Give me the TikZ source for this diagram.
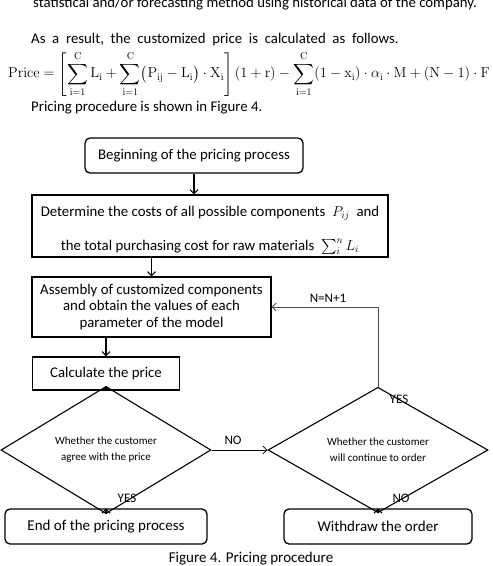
\documentclass[tikz,border=0pt]{standalone}
\usepackage{amsmath,amssymb}
\usepackage[no-math]{fontspec}
\setmainfont{Carlito}
\usetikzlibrary{shapes.geometric, arrows.meta, positioning}

\begin{document}
\begin{tikzpicture}[
  x=1pt, y=-1pt,
  bodytext/.style = {anchor=base west, inner sep=0pt, font=\fontsize{14.8}{17}\selectfont},
  procbox/.style  = {rectangle, draw, line width=1.3pt, align=center, inner sep=2pt,
                     font=\fontsize{14.8}{16.5}\selectfont},
  termbox/.style  = {procbox, rounded corners=5pt},
  decnode/.style  = {diamond, draw, line width=1.1pt, align=center, inner sep=0pt,
                     font=\fontsize{11}{16}\selectfont},
  lbl/.style      = {font=\fontsize{13}{15}\selectfont, inner sep=0pt},
  arr/.style      = {-{Straight Barb[length=4pt,width=8pt]}, line width=1.1pt},
  backarr/.style  = {arr, line width=0.8pt, color=black!70},
]
\clip (0,0) rectangle (493,566);

%% --- Text around the figure ---
\node[bodytext] (prev)  at (33,7)  {statistical and/or forecasting method using historical data of the company.};
\node[bodytext] (intro) at (31,43) {\spaceskip=6.7pt\relax As a result, the customized price is calculated as follows.};
\node[anchor=west, inner sep=0pt, font=\fontsize{14.5}{18}\selectfont] (formula) at (8,74)
  {$\displaystyle \mathrm{Price}=\left[\sum_{\mathrm{i}=1}^{\mathrm{C}}\mathrm{L_i}
   +\sum_{\mathrm{i}=1}^{\mathrm{C}}\bigl(\mathrm{P_{ij}}-\mathrm{L_i}\bigr)\cdot\mathrm{X_i}\right](1+\mathrm{r})
   -\sum_{\mathrm{i}=1}^{\mathrm{C}}(1-\mathrm{x_i})\cdot\alpha_{\mathrm{i}}\cdot\mathrm{M}+(\mathrm{N}-1)\cdot\mathrm{F}$};
\node[bodytext] (refer) at (31,111) {Pricing procedure is shown in Figure 4.};

%% --- Process boxes ---
\node[termbox, minimum width=218pt, minimum height=35pt] (start) at (194,155.5) {Beginning of the pricing process};
\node[procbox, minimum width=356pt, minimum height=62pt] (costs) at (210,226)
  {\rule{0pt}{19pt}Determine the costs of all possible components \ $P_{ij}$ \ and\\[17.5pt]
   the total purchasing cost for raw materials \ $\textstyle\sum_{i}^{n}L_i$};
\node[procbox, minimum width=239pt, minimum height=60pt] (assem) at (151.5,307)
  {Assembly of customized components\\ and obtain the values of each\\ parameter of the model};
\node[procbox, minimum width=147pt, minimum height=33pt] (calc) at (106,373.5) {Calculate the price};

%% --- Decisions ---
\node[decnode, minimum width=210pt, minimum height=76pt] (agree) at (106,450) {Whether the customer\\ agree with the price};
\node[decnode, minimum width=220pt, minimum height=76pt] (cont)  at (378,450) {Whether the customer\\ will continue to order};

%% --- End boxes ---
\node[termbox, minimum width=202pt, minimum height=35pt, font=\fontsize{15}{18}\selectfont] (finish)   at (106,526.5) {End of the pricing process};
\node[termbox, minimum width=188pt, minimum height=35pt, font=\fontsize{15}{18}\selectfont] (withdraw) at (378,526.5) {Withdraw the order};

%% --- Arrows ---
\draw[arr] (start) -- (start |- costs.north);
\draw[arr] (costs.south -| assem.north) -- (assem.north);
\draw[arr] (assem.south -| calc.north) -- (calc.north);
\draw[arr] (calc) -- (agree.north);
\draw[arr] (agree) -- (finish.north);
\draw[arr, line width=0.8pt] (agree.east) -- (cont.west);
\draw[arr] (cont) -- (withdraw.north);
\draw[backarr] (cont.north) |- (assem.east);

%% --- Labels ---
\node[lbl] (yesl) at (127,498) {YES};
\node[lbl] (nom)  at (233,440) {NO};
\node[lbl] (nor)  at (401,498) {NO};
\node[lbl] (yesr) at (399,399) {YES};
\node[lbl] (incr) at (328,298) {N=N+1};

%% --- Caption ---
\node[anchor=base, inner sep=0pt, font=\fontsize{15}{18}\selectfont] (caption) at (251,562) {Figure 4. Pricing procedure};

\end{tikzpicture}
\end{document}
